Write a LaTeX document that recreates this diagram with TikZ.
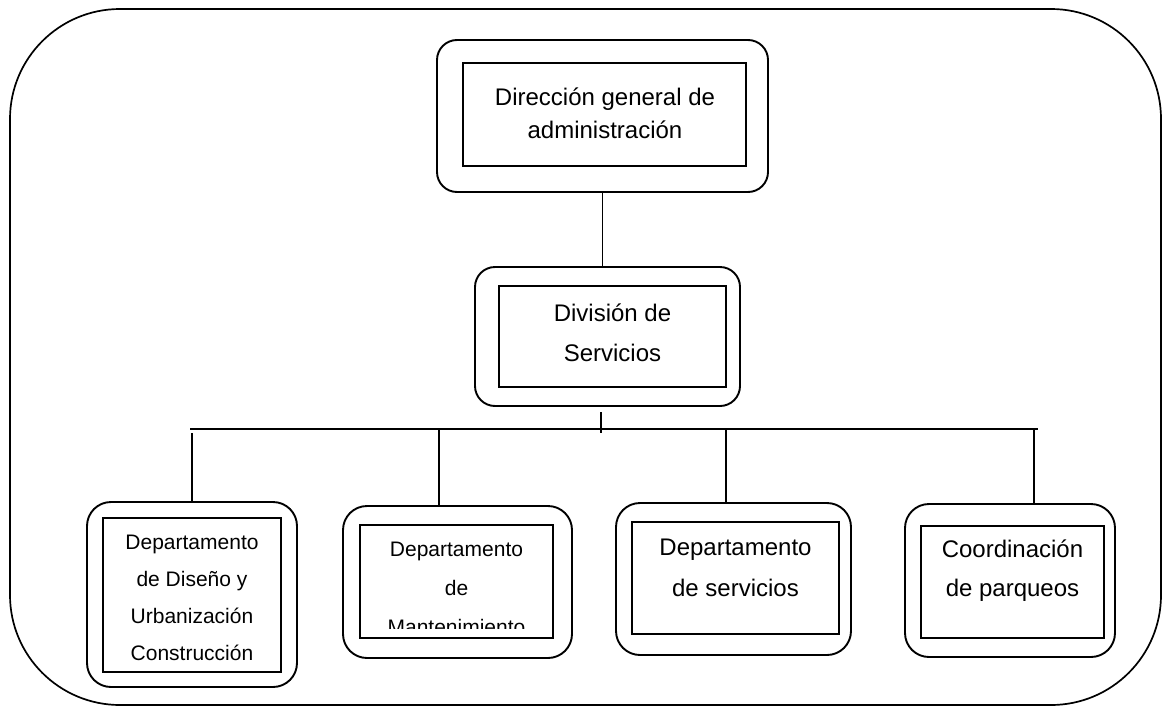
\documentclass[tikz,border=0pt]{standalone}
\usepackage{fontspec}
\setmainfont{Liberation Sans}
\usetikzlibrary{calc}
\begin{document}
\begin{tikzpicture}[x=1pt,y=-1pt,
  lw/.style={line width=1.9pt},
  outerbox/.style={draw,lw,rounded corners=20pt,inner sep=0pt,outer sep=0pt},
  innerbox/.style={draw,lw,inner sep=0pt,outer sep=0pt},
  label/.style={align=center,inner sep=0pt},
  big/.style={font=\fontsize{24}{33}\selectfont},
  small/.style={font=\fontsize{21}{37}\selectfont},
  conn/.style={line width=1.6pt}]
\useasboundingbox (0,0) rectangle (1162,707);
% outer frame
\draw[line width=1.7pt,rounded corners=110pt] (10,9) rectangle (1161,705);
% top box
\node[outerbox,minimum width=331pt,minimum height=152pt] (topO) at (602.5,116) {};
\node[innerbox,minimum width=283pt,minimum height=103pt] (topI) at (604.5,114.5) {};
\node[label,big] (topT) at (605,113.5) {Dirección general de\\administración};
% division
\node[outerbox,minimum width=265pt,minimum height=139pt] (dsO) at (607.5,336.5) {};
\node[innerbox,minimum width=227pt,minimum height=101pt] (dsI) at (612.5,336.5) {};
\node[label,font=\fontsize{24}{40}\selectfont] (dsT) at (612.5,333) {División de\\Servicios};
% box 1
\node[outerbox,rounded corners=24pt,minimum width=210pt,minimum height=185pt] (b1O) at (192,594.5) {};
\node[innerbox,minimum width=178pt,minimum height=154pt] (b1I) at (192,595) {};
\node[label,small] (b1T) at (192,597.5) {Departamento\\de Diseño y\\Urbanización\\Construcción};
% box 2
\node[outerbox,rounded corners=24pt,minimum width=229pt,minimum height=152pt] (b2O) at (457.5,582) {};
\node[innerbox,minimum width=193pt,minimum height=113pt] (b2I) at (456.5,581.5) {};
\begin{scope}
\clip (b2I.north west) rectangle ($(b2I.south east)+(0,-10)$);
\node[label,font=\fontsize{21}{39}\selectfont] (b2T) at (456.5,588) {Departamento\\de\\Mantenimiento};
\end{scope}
% box 3
\node[outerbox,rounded corners=24pt,minimum width=235pt,minimum height=152pt] (b3O) at (733.5,579) {};
\node[innerbox,minimum width=207pt,minimum height=112pt] (b3I) at (735.5,578) {};
\node[label,font=\fontsize{24}{41}\selectfont] (b3T) at (735.5,567.5) {Departamento\\de servicios};
% box 4
\node[outerbox,rounded corners=24pt,minimum width=210pt,minimum height=153pt] (b4O) at (1010,580.5) {};
\node[innerbox,minimum width=183pt,minimum height=112pt] (b4I) at (1012.5,582) {};
\node[label,font=\fontsize{24}{39}\selectfont] (b4T) at (1012.5,570.5) {Coordinación\\de parqueos};
% connectors
\draw[conn] (topO.south) -- (topO.south |- dsO.north);
\coordinate (t1) at (601,412);
\coordinate (t2) at (601,433);
\draw[conn] (t1) -- (t2);
\coordinate (busL) at (190,429);
\coordinate (busR) at (1038,429);
\draw[conn] (busL) -- (busR);
\coordinate (d1) at (192,433);
\coordinate (d2) at (439,429);
\coordinate (d3) at (726,429);
\coordinate (d4) at (1034,429);
\draw[conn] (d1) -- (d1 |- b1O.north);
\draw[conn] (d2) -- (d2 |- b2O.north);
\draw[conn] (d3) -- (d3 |- b3O.north);
\draw[conn] (d4) -- (d4 |- b4O.north);
\end{tikzpicture}
\end{document}
